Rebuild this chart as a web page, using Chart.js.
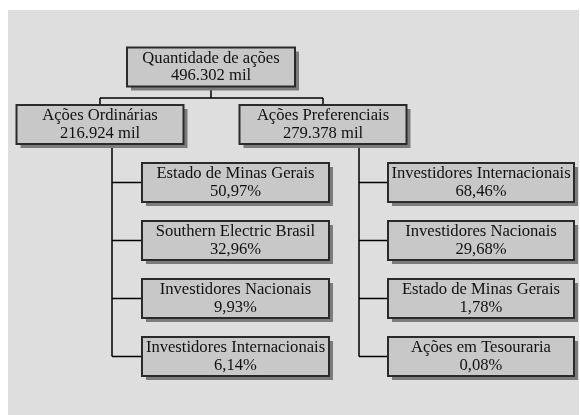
<!DOCTYPE html>
<html>
<head>
<meta charset="utf-8">
<script src="https://cdn.jsdelivr.net/npm/chart.js@4.4.1/dist/chart.umd.min.js"></script>
<style>
  body { margin: 0; background: #fff; }
  #wrap { width: 580px; height: 415px; }
</style>
</head>
<body>
<div id="wrap"><canvas id="orgChart"></canvas></div>
<script>
// tree values
const rootName = 'Quantidade de ações';
const rootTotal = 496302;
const groupNames = ['Ações Ordinárias', 'Ações Preferenciais'];
const groupTotals = [216924, 279378];
const ordinariasHolders = ['Estado de Minas Gerais', 'Southern Electric Brasil', 'Investidores Nacionais', 'Investidores Internacionais'];
const ordinariasShares = [50.97, 32.96, 9.93, 6.14];
const preferenciaisHolders = ['Investidores Internacionais', 'Investidores Nacionais', 'Estado de Minas Gerais', 'Ações em Tesouraria'];
const preferenciaisShares = [68.46, 29.68, 1.78, 0.08];

const fmtMil = v => v.toLocaleString('pt-BR') + ' mil';
const fmtPct = v => v.toLocaleString('pt-BR', { minimumFractionDigits: 2, maximumFractionDigits: 2 }) + '%';

// layout (diagram units == scale units)
const boxH = 39;
const rootPos = { x: 211, y: 67, w: 168 };
const groupX = [100, 323];
const groupY = 124.5;
const groupW = 167;
const trunkX = [112, 359];
const leafLeft = [142, 388];
const leafW = [187, 186];
const leafTop = 182.5;
const leafGap = 58;
const busY = 98;

const holders = [ordinariasHolders, preferenciaisHolders];
const shares = [ordinariasShares, preferenciaisShares];

// nodes
const nodes = [{ x: rootPos.x, y: rootPos.y, w: rootPos.w, lines: [rootName, fmtMil(rootTotal)] }];
groupNames.forEach((g, i) => {
    nodes.push({ x: groupX[i], y: groupY, w: groupW, lines: [g, fmtMil(groupTotals[i])] });
});
holders.forEach((list, gi) => {
    list.forEach((h, j) => {
        nodes.push({
            x: leafLeft[gi] + leafW[gi] / 2,
            y: leafTop + j * leafGap,
            w: leafW[gi],
            lines: [h, fmtPct(shares[gi][j])]
        });
    });
});

// connectors
const connectors = [];
connectors.push([{ x: rootPos.x, y: rootPos.y + boxH / 2 }, { x: rootPos.x, y: busY }]);
connectors.push([{ x: groupX[0], y: busY }, { x: groupX[1], y: busY }]);
groupX.forEach(gx => connectors.push([{ x: gx, y: busY }, { x: gx, y: groupY - boxH / 2 }]));
holders.forEach((list, gi) => {
    const lastY = leafTop + (list.length - 1) * leafGap;
    connectors.push([{ x: trunkX[gi], y: groupY + boxH / 2 }, { x: trunkX[gi], y: lastY }]);
    list.forEach((h, j) => {
        const y = leafTop + j * leafGap;
        connectors.push([{ x: trunkX[gi], y: y }, { x: leafLeft[gi], y: y }]);
    });
});

const datasets = connectors.map(seg => ({
    data: seg,
    showLine: true,
    borderColor: '#000',
    borderWidth: 1.5,
    pointRadius: 0,
    fill: false
}));
datasets.push({ data: nodes, pointRadius: 0, showLine: false, isNodes: true });

const panelPlugin = {
    id: 'panel',
    beforeDraw(chart) {
        const { ctx, scales: { x, y } } = chart;
        const x0 = x.getPixelForValue(8), x1 = x.getPixelForValue(579);
        const y0 = y.getPixelForValue(10), y1 = y.getPixelForValue(415);
        ctx.save();
        ctx.fillStyle = '#dedede';
        ctx.fillRect(x0, y0, x1 - x0, y1 - y0);
        ctx.restore();
    }
};

const boxPlugin = {
    id: 'boxes',
    afterDatasetsDraw(chart) {
        const { ctx, scales: { x, y } } = chart;
        const di = chart.data.datasets.findIndex(d => d.isNodes);
        const ds = chart.data.datasets[di];
        ctx.save();
        ds.data.forEach(n => {
            const left = x.getPixelForValue(n.x - n.w / 2);
            const right = x.getPixelForValue(n.x + n.w / 2);
            const top = y.getPixelForValue(n.y - boxH / 2);
            const bottom = y.getPixelForValue(n.y + boxH / 2);
            const w = right - left, h = bottom - top;
            ctx.fillStyle = '#7c7c7c';
            ctx.fillRect(left + 4, top + 4, w, h);
            ctx.fillStyle = '#c8c8c8';
            ctx.fillRect(left, top, w, h);
            ctx.strokeStyle = '#2a2a2a';
            ctx.lineWidth = 2;
            ctx.strokeRect(left, top, w, h);
            ctx.fillStyle = '#111';
            ctx.font = '16.6px "Liberation Serif", "Times New Roman", serif';
            ctx.textAlign = 'center';
            ctx.textBaseline = 'middle';
            const cx = x.getPixelForValue(n.x);
            const cy = y.getPixelForValue(n.y);
            ctx.fillText(n.lines[0], cx, cy - 8.5);
            ctx.fillText(n.lines[1], cx, cy + 9);
        });
        ctx.restore();
    }
};

new Chart(document.getElementById('orgChart').getContext('2d'), {
    type: 'scatter',
    data: { datasets: datasets },
    options: {
        responsive: true,
        maintainAspectRatio: false,
        animation: false,
        events: [],
        layout: { padding: 0 },
        plugins: { legend: { display: false }, tooltip: { enabled: false } },
        scales: {
            x: { type: 'linear', min: 0, max: 580, display: false },
            y: { type: 'linear', min: 0, max: 415, reverse: true, display: false }
        }
    },
    plugins: [panelPlugin, boxPlugin]
});
</script>
</body>
</html>
